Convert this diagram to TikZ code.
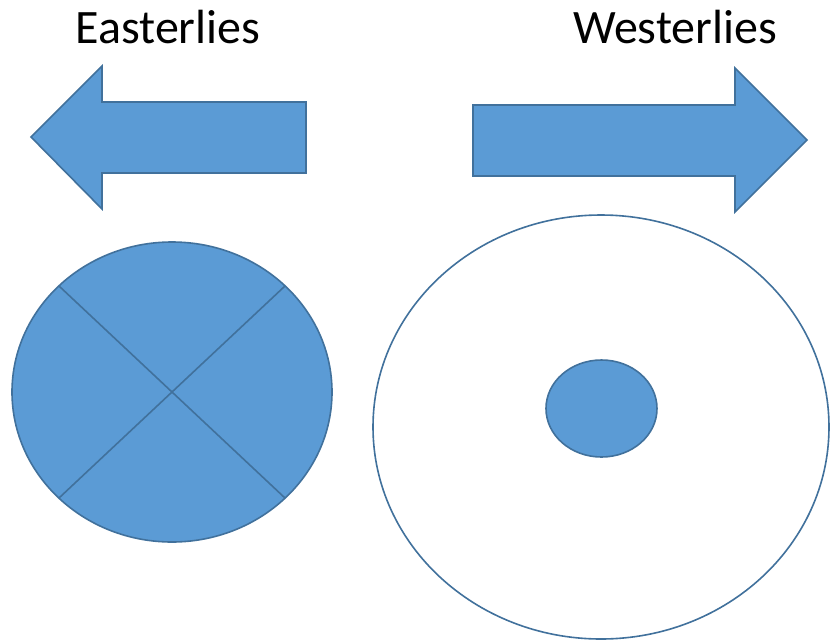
\documentclass[tikz,border=0pt]{standalone}
\usepackage{fontspec}
\setmainfont{Carlito}
\usetikzlibrary{shapes.geometric}
\definecolor{bfill}{HTML}{5B9BD5}
\definecolor{bline}{HTML}{41719C}
\tikzset{
  blueshape/.style={fill=bfill, draw=bline, line width=1.6pt, line join=miter},
  oval/.style={ellipse, draw=bline, line width=1.6pt, inner sep=0pt, outer sep=0pt},
  label/.style={font=\fontsize{48}{54}\selectfont, inner sep=0pt, anchor=base}
}
\begin{document}
\begin{tikzpicture}[x=1pt,y=-1pt]
\useasboundingbox (0,0) rectangle (831,641);
% titles
\node[label] (east) at (168,43) {Easterlies};
\node[label] (west) at (675,43) {Westerlies};
% left arrow
\draw[blueshape] (31,137) -- (102,66) -- (102,102) -- (306,102) -- (306,173) -- (102,173) -- (102,209) -- cycle;
% right arrow
\draw[blueshape] (807,140) -- (735,68) -- (735,105) -- (473,105) -- (473,176) -- (735,176) -- (735,212) -- cycle;
% left circle
\node[oval, fill=bfill, minimum width=320pt, minimum height=300pt] (L) at (172,392) {};
\coordinate (ne) at ([shift={(113,-106)}]L.center);
\coordinate (sw) at ([shift={(-113,106)}]L.center);
\coordinate (nw) at ([shift={(-113,-106)}]L.center);
\coordinate (se) at ([shift={(113,106)}]L.center);
\draw[bline, line width=1.6pt] (ne) -- (sw);
\draw[bline, line width=1.6pt] (nw) -- (se);
% right circle
\node[oval, fill=white, minimum width=456pt, minimum height=424pt] (R) at (601,427) {};
\node[oval, fill=bfill, minimum width=111pt, minimum height=97pt] (C) at (601.5,408.5) {};
\end{tikzpicture}
\end{document}
